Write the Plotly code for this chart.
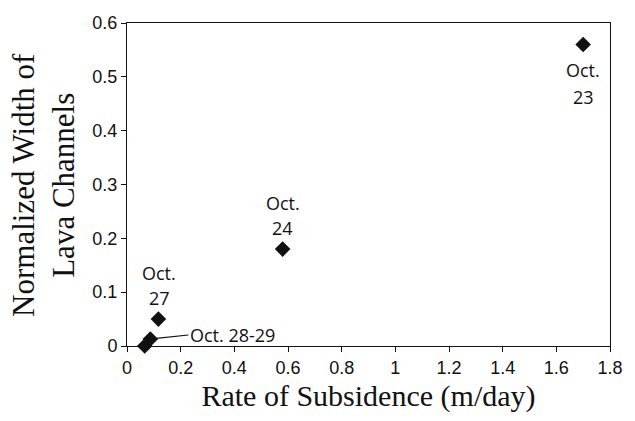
import plotly.graph_objects as go

# data
labels = ["Oct. 23", "Oct. 24", "Oct. 27", "Oct. 28", "Oct. 29"]
subsidence = [1.70, 0.58, 0.117, 0.066, 0.087]
width = [0.56, 0.18, 0.05, 0.0, 0.013]

x_ticks = [0, 0.2, 0.4, 0.6, 0.8, 1.0, 1.2, 1.4, 1.6, 1.8]
x_ticktext = ["0", "0.2", "0.4", "0.6", "0.8", "1", "1.2", "1.4", "1.6", "1.8"]
y_ticks = [0, 0.1, 0.2, 0.3, 0.4, 0.5, 0.6]
y_ticktext = ["0", "0.1", "0.2", "0.3", "0.4", "0.5", "0.6"]

fig = go.Figure()
fig.add_trace(go.Scatter(
    x=subsidence, y=width, mode="markers",
    marker=dict(symbol="diamond", size=12, color="#111111"),
    cliponaxis=False, showlegend=False,
))

ann_font = dict(family="Open Sans, Noto Sans, sans-serif", size=18, color="#111")

def two_line(i, first, second, s1, s2, xs=0):
    fig.add_annotation(x=subsidence[i], y=width[i], text=first, showarrow=False,
                       yanchor="middle", yshift=s1, xshift=xs, font=ann_font)
    fig.add_annotation(x=subsidence[i], y=width[i], text=second, showarrow=False,
                       yanchor="middle", yshift=s2, xshift=xs, font=ann_font)

two_line(0, "Oct.", "23", -25, -52)
two_line(1, "Oct.", "24", 46, 21)
two_line(2, "Oct.", "27", 46, 21, 1)
fig.add_annotation(x=subsidence[4], y=width[4], text="Oct. 28-29", showarrow=True,
                   arrowhead=0, arrowwidth=1.2, arrowcolor="#111", ax=38, ay=-4,
                   xanchor="left", font=ann_font, standoff=6)

fig.update_layout(
    width=635, height=421,
    margin=dict(l=127, r=14, t=23, b=75),
    paper_bgcolor="white", plot_bgcolor="white",
    font=dict(family="Liberation Sans, Arial, sans-serif", size=18, color="#111"),
    xaxis=dict(
        range=[0, 1.8], tickvals=x_ticks, ticktext=x_ticktext,
        showgrid=False, zeroline=False, showline=True, linecolor="#111", linewidth=1,
        mirror=True, ticks="outside", ticklen=5, tickcolor="#111",
        title=dict(text="Rate of Subsidence (m/day)",
                   font=dict(family="Liberation Serif, Times New Roman, serif", size=30, color="#111"),
                   standoff=8),
    ),
    yaxis=dict(
        range=[0, 0.6], tickvals=y_ticks, ticktext=y_ticktext,
        showgrid=False, zeroline=False, showline=True, linecolor="#111", linewidth=1,
        mirror=True, ticks="outside", ticklen=5, tickcolor="#111",
    ),
)
fig.add_annotation(
    xref="paper", yref="paper", x=-0.173, y=0.5, xanchor="center", yanchor="middle",
    text="Normalized Width of<br>Lava Channels", textangle=-90, showarrow=False,
    font=dict(family="Liberation Serif, Times New Roman, serif", size=31, color="#111"),
)

fig.write_html("out.html")
